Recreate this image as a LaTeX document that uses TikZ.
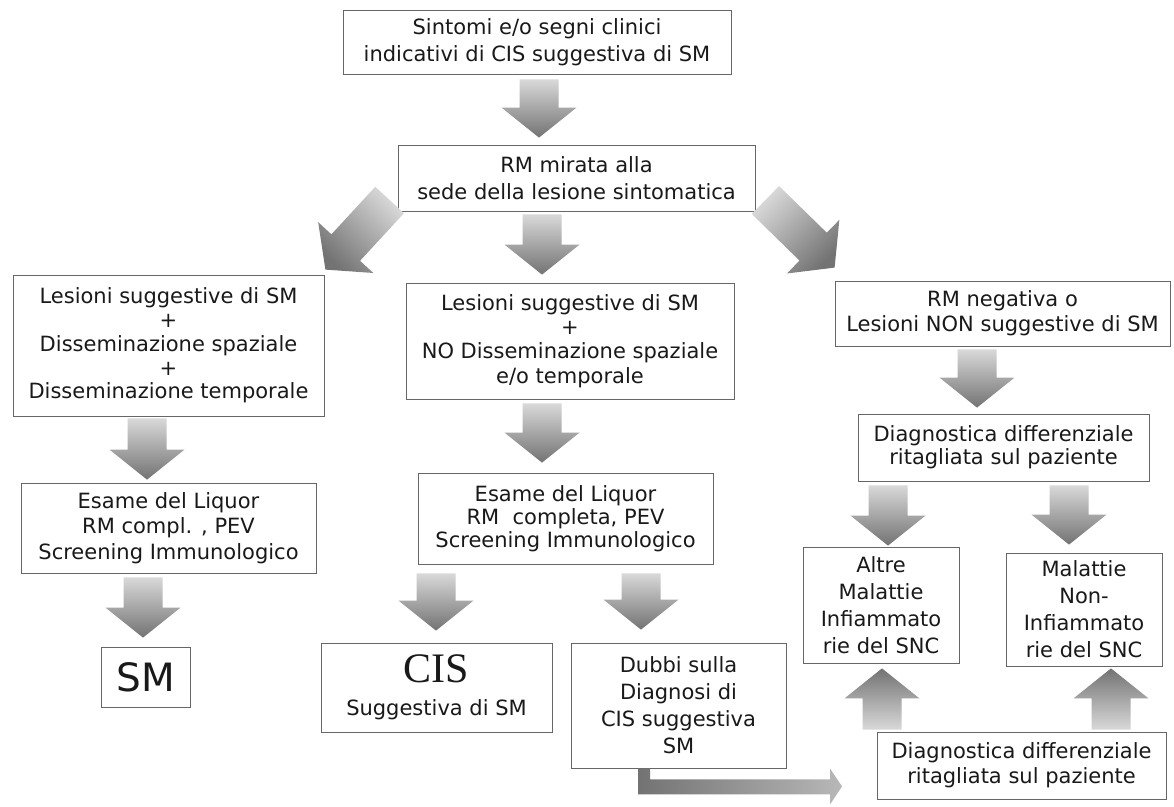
\documentclass[tikz,border=0pt]{standalone}
\usepackage{fontspec}
\setmainfont{DejaVu Sans}
\newfontfamily\cisfont{Liberation Serif}
\usetikzlibrary{calc}
\tikzset{
  box/.style={draw=black!60, line width=0.8pt, inner sep=0pt, align=center, text=black!90, fill=white},
  wh/.style 2 args={minimum width=#1pt, minimum height=#2pt},
  bs/.style={font=\fontsize{21}{#1}\selectfont},
  arr/.style={top color=black!15, bottom color=black!55, draw=none},
  bentarr/.style={left color=black!55, right color=black!28, draw=none},
}
\newcommand{\blockarrow}[3][]{%
  \coordinate (bat) at #2;
  \coordinate (bah) at #3;
  \coordinate (bab) at ($(bah)!30pt!(bat)$);
  \shade[arr,#1] ($(bat)!19.5pt!90:(bah)$) -- ($(bab)!19.5pt!90:(bah)$) -- ($(bab)!37.5pt!90:(bah)$) -- (bah)
    -- ($(bab)!37.5pt!-90:(bah)$) -- ($(bab)!19.5pt!-90:(bah)$) -- ($(bat)!19.5pt!-90:(bah)$) -- cycle;
}
\begin{document}
\begin{tikzpicture}[x=1pt,y=1pt]
\fill[white] (0,0) rectangle (1174,-806);
\useasboundingbox (0,0) rectangle (1174,-806);

% boxes
\node[box,wh={388}{64},bs=27] (b1) at (537,-42) {Sintomi e/o segni clinici\\indicativi di CIS suggestiva di SM};
\node[box,wh={357}{66},bs=26.7] (b2) at (576.5,-178) {RM mirata alla\\sede della lesione sintomatica};
\node[box,wh={311}{141},bs=23.7] (b3) at (168.5,-345.5) {Lesioni suggestive di SM\\+\\Disseminazione spaziale\\+\\Disseminazione temporale};
\node[box,wh={328}{116},bs=24.3] (b4) at (570,-341) {Lesioni suggestive di SM\\+\\NO Disseminazione spaziale\\e/o temporale};
\node[box,wh={335}{65},bs=25] (b5) at (1002.5,-313.5) {RM negativa o\\Lesioni NON suggestive di SM};
\node[box,wh={295}{90},bs=25.7] (b6) at (168.5,-528) {Esame del Liquor\\RM compl. , PEV\\Screening Immunologico};
\node[box,wh={295}{91},bs=23.3] (b7) at (565.5,-518.5) {Esame del Liquor\\RM\ \ completa, PEV\\Screening Immunologico};
\node[box,wh={291}{67},bs=23.3] (b8) at (1003.5,-447.5) {Diagnostica differenziale\\ritagliata sul paziente};
\node[box,wh={89}{60},font=\fontsize{39}{40}\selectfont] (bSM) at (145.5,-677) {SM};
\node[box,wh={231}{89},bs=33] (bCIS) at (436.5,-687.5) {{\cisfont\fontsize{42}{33}\selectfont CIS}\\Suggestiva di SM};
\node[box,wh={215}{125},bs=27] (bDub) at (678.5,-705.5) {Dubbi sulla\\Diagnosi di\\CIS suggestiva\\SM};
\node[box,wh={156}{116},bs=27] (bAltre) at (881,-605) {Altre\\Malattie\\Infiammato\\rie del SNC};
\node[box,wh={156}{113},bs=27] (bMal) at (1084,-609.5) {Malattie\\Non-\\Infiammato\\rie del SNC};
\node[box,wh={289}{67},bs=25] (b9) at (1021.5,-765.5) {Diagnostica differenziale\\ritagliata sul paziente};

% block arrows
\blockarrow{($(b1.south)+(2,-5)$)}{($(b1.south|-b2.north)+(2,7)$)}
\blockarrow{($(b2.south)+(-34.5,-3)$)}{($(b4.north)+(-28,8)$)}
\blockarrow[shading angle=-45]{($(b2.west)+(-8,-22)$)}{($(b3.north east)+(1,5)$)}
\blockarrow[shading angle=45]{($(b2.east)+(10,-22)$)}{($(b5.north west)+(0,13)$)}
\blockarrow{($(b3.south)+(-21.5,-2)$)}{($(b6.north)+(-21.5,3)$)}
\blockarrow{($(b4.south)+(-28,-4)$)}{($(b7.north)+(-23.5,10)$)}
\blockarrow{($(b5.south)+(-25.5,-3)$)}{($(b8.north)+(-26.5,6)$)}
\blockarrow{($(b6.south)+(-25.5,-4)$)}{($(bSM.north)+(-2.5,9)$)}
\blockarrow{($(b7.south)+(-129.5,-9)$)}{($(bCIS.north)+(-0.5,12)$)}
\blockarrow{($(b7.south)+(75.5,-9)$)}{($(bDub.north)+(-37.5,13)$)}
\blockarrow{($(b8.south)+(-115.5,-4)$)}{($(bAltre.north)+(7,1)$)}
\blockarrow{($(b8.south)+(65.5,-4)$)}{($(bMal.north)+(-15,8)$)}
\blockarrow[shading angle=180]{($(b9.north)+(-139.5,2)$)}{($(bAltre.south)+(1,-5)$)}
\blockarrow[shading angle=180]{($(b9.north)+(89.5,2)$)}{($(bMal.south)+(27,-2)$)}

% bent arrow from Dubbi box
\coordinate (bendstart) at ($(bDub.south)+(-40.5,0)$);
\coordinate (bendtip) at ($(bendstart)+(204,-18)$);
\shade[bentarr] (bendstart) -- ++(12,0) -- ++(0,-11) -- ++(180,0) -- ++(0,11) -- (bendtip)
  -- ++(-12,-18) -- ++(0,10) -- ++(-192,0) -- cycle;
\end{tikzpicture}
\end{document}
